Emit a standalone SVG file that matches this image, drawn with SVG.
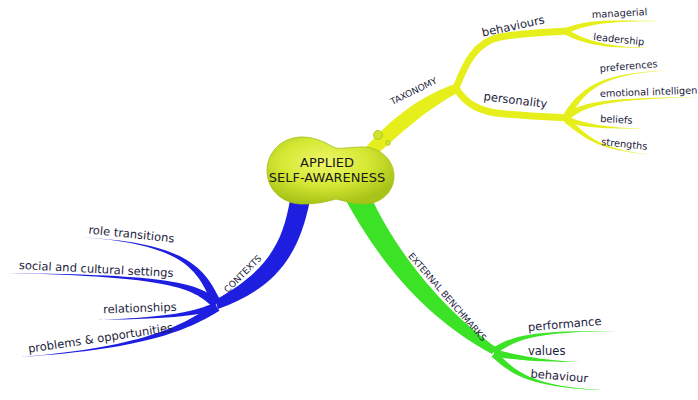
<svg xmlns="http://www.w3.org/2000/svg" width="698" height="400" viewBox="0 0 698 400">
<defs>
<radialGradient id="blobG" cx="45%" cy="38%" r="62%">
<stop offset="0" stop-color="#eef66a"/>
<stop offset="0.55" stop-color="#d6e834"/>
<stop offset="1" stop-color="#a8c418"/>
</radialGradient>
<style>
.y{fill:#e6ef1c}
.ys{fill:none;stroke:#e6ef1c;stroke-width:7;stroke-linecap:round;stroke-linejoin:round}
.b{fill:#1e1ee0}
.g{fill:#3ce226}
text{font-family:"DejaVu Sans",Verdana,sans-serif;fill:#1c1c3c}
.t1{font-size:9px}
.t2{font-size:11.5px}
.t3{font-size:9.8px}
.tc{font-size:13px;fill:#1a1a1a}
</style>
</defs>
<rect width="698" height="400" fill="#ffffff"/>
<g id="connectors">
<!-- yellow -->
<path class="y" d="M365,148 C386,125 414,98 455,84 L459,92 C425,110 399,135 375,156 Z"/>
<path class="ys" d="M456,88 C466,62 476,42 500,37 C525,33 545,32 568,31"/>
<path class="ys" d="M456,88 C465,103 478,112 505,114 C530,116 550,117 568,118"/>
<path class="y" d="M567.2,33.7 C588.8,22.9 610.4,21.8 660,21 C609.6,20.2 587.2,19.1 564.8,28.3 Z"/>
<path class="y" d="M564.6,34.6 C587,45.8 609.6,48.8 656,48 C610.4,47.2 589,42.2 567.4,29.4 Z"/>
<path class="y" d="M569,118.75 C588.1,83.2 610.9,74.5 670,70 C609.1,73.5 583.9,80.8 563,115.25 Z"/>
<path class="y" d="M568.2,120.7 C586.5,103.9 610.7,99.8 700,97 C609.3,98.2 583.5,100.1 563.8,115.3 Z"/>
<path class="y" d="M565,121.8 C584.3,128 604.7,128.8 645,129 C605.3,127.2 585.7,124 567,116.2 Z"/>
<path class="y" d="M564.1,122.3 C583.7,136.6 594.4,150.7 655,155 C595.6,149.3 586.3,133.4 567.9,117.7 Z"/>
<!-- blue -->
<path class="b" d="M290,200 C283,240 270,270 215,300 L218,309 C270,290 298,262 310,200 Z"/>
<path class="b" d="M220.2,300.2 C202.9,263.7 181.3,242.5 78,237 C178.7,243.5 197.1,266.3 211.8,303.8 Z"/>
<path class="b" d="M219,300.6 C197.1,282.6 170.9,275 8,273 C169.1,277 192.9,287.4 213,307.4 Z"/>
<path class="b" d="M217.3,309.6 C200.9,314.5 180.4,319.1 95,320 C179.6,316.9 199.1,309.5 214.7,302.4 Z"/>
<path class="b" d="M219.5,310.8 C191.8,327.7 150.8,349.1 20,357 C149.2,346.9 188.2,322.3 214.5,303.2 Z"/>
<!-- green -->
<path class="g" d="M343,195 C375,255 420,315 492,354 L497,348 C450,315 400,260 370,195 Z"/>
<path class="g" d="M495.9,353.9 C516.3,339 535.6,331.9 618,331 C534.4,330.1 513.7,335 492.1,348.1 Z"/>
<path class="g" d="M493.3,356.4 C519.5,360.4 539.8,362 580,362 C540.2,360 520.5,355.6 494.7,349.6 Z"/>
<path class="g" d="M491.5,356.5 C510.3,373.8 529.3,387.8 602,390 C530.7,386.2 513.8,370.3 496.5,351.5 Z"/>
</g>
<g id="center">
<path fill="url(#blobG)" stroke="#a2bf16" stroke-width="0.8" d="M267,171 C267,151 283,137 302,137 C318,137 326,144 336,148 C343,149 350,147 363,147 C380,147 394,160 394,176 C394,192 381,204 364,204 C353,204 345,201 336,199 C326,202 316,204 302,204 C283,204 267,190 267,171 Z"/>
<circle cx="378" cy="135" r="4.5" fill="#cfe32c" stroke="#a6c21a" stroke-width="0.8"/>
<circle cx="388" cy="143" r="2.5" fill="#cfe32c" stroke="#a6c21a" stroke-width="0.6"/>
<text class="tc" x="327" y="167" text-anchor="middle">APPLIED</text>
<text class="tc" x="327" y="182" text-anchor="middle">SELF-AWARENESS</text>
</g>
<g id="taxonomy"><text class="t1" x="415" y="94" text-anchor="middle" transform="rotate(-26 415 94)">TAXONOMY</text></g>
<g id="behaviours"><text class="t2" x="514" y="30" text-anchor="middle" transform="rotate(-12 514 30)">behaviours</text></g>
<g id="managerial"><text class="t3" x="592" y="18" transform="rotate(-3 592 18)">managerial</text></g>
<g id="leadership"><text class="t3" x="593" y="40" transform="rotate(6 593 40)">leadership</text></g>
<g id="personality"><text class="t2" x="515" y="104" text-anchor="middle" transform="rotate(7 515 104)">personality</text></g>
<g id="preferences"><text class="t3" x="600" y="72" transform="rotate(-5 600 72)">preferences</text></g>
<g id="emotional"><text class="t3" x="600" y="97" transform="rotate(-2 600 97)">emotional intelligen</text></g>
<g id="beliefs"><text class="t3" x="600" y="122" transform="rotate(3 600 122)">beliefs</text></g>
<g id="strengths"><text class="t3" x="601" y="145" transform="rotate(6 601 145)">strengths</text></g>
<g id="contexts"><text class="t1" x="245" y="276" text-anchor="middle" transform="rotate(-45 245 276)">CONTEXTS</text></g>
<g id="role-transitions"><text class="t2" x="131" y="238" text-anchor="middle" transform="rotate(6 131 238)">role transitions</text></g>
<g id="social"><text class="t2" x="96" y="273" text-anchor="middle" transform="rotate(3 96 273)">social and cultural settings</text></g>
<g id="relationships"><text class="t2" x="140" y="312" text-anchor="middle" transform="rotate(-2 140 312)">relationships</text></g>
<g id="problems"><text class="t2" x="101" y="342" text-anchor="middle" transform="rotate(-8.5 101 342)">problems &amp; opportunities</text></g>
<g id="external"><text class="t1" x="445" y="299" text-anchor="middle" transform="rotate(49 445 299)">EXTERNAL BENCHMARKS</text></g>
<g id="performance"><text class="t2" x="565" y="328" text-anchor="middle" transform="rotate(-5 565 328)">performance</text></g>
<g id="values"><text class="t2" x="528" y="355">values</text></g>
<g id="behaviour"><text class="t2" x="559" y="380" text-anchor="middle" transform="rotate(5 559 380)">behaviour</text></g>
</svg>
